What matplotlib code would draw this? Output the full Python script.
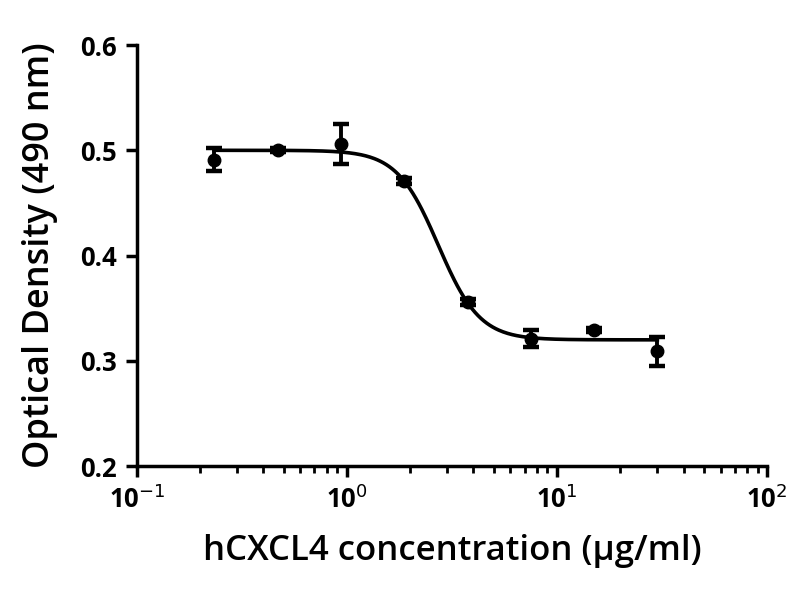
import numpy as np
import matplotlib.pyplot as plt
from matplotlib.ticker import LogLocator, FixedLocator

# concentration (ug/ml) and measured OD at 490 nm
conc = [0.234, 0.469, 0.9375, 1.875, 3.75, 7.5, 15.0, 30.0]
od = [0.491, 0.500, 0.506, 0.471, 0.356, 0.321, 0.329, 0.309]
od_err = [0.011, 0.002, 0.019, 0.003, 0.003, 0.008, 0.002, 0.014]

# 4-parameter logistic fit
top = 0.500
bottom = 0.320
ec50 = 2.72
hill = 4.4

plt.rcParams['font.family'] = ['Open Sans', 'DejaVu Sans']

fig = plt.figure(figsize=(8, 6), dpi=100)
ax = fig.add_axes([0.171, 0.223, 0.788, 0.702])

xfit = np.logspace(np.log10(conc[0]), np.log10(conc[-1]), 300)
yfit = bottom + (top - bottom) / (1 + (xfit / ec50) ** hill)
ax.plot(xfit, yfit, color='black', lw=2.6)

ax.errorbar(conc, od, yerr=od_err, fmt='o', color='black', ms=9,
            elinewidth=2.8, capsize=6, capthick=3.2)

ax.set_xscale('log')
ax.set_xlim(0.1, 100)
ax.set_ylim(0.2, 0.6)
ax.set_yticks([0.2, 0.3, 0.4, 0.5, 0.6])
ax.set_yticklabels(['0.2', '0.3', '0.4', '0.5', '0.6'])
ax.xaxis.set_major_locator(FixedLocator([0.1, 1, 10, 100]))
ax.set_xticklabels(['10$^{-1}$', '10$^{0}$', '10$^{1}$', '10$^{2}$'])
ax.xaxis.set_minor_locator(LogLocator(base=10, subs=np.arange(2, 10)))

for s in ['top', 'right']:
    ax.spines[s].set_visible(False)
for s in ['left', 'bottom']:
    ax.spines[s].set_linewidth(2.5)

ax.tick_params(axis='both', which='major', length=8, width=2.5,
               labelsize=18.5, pad=6)
ax.tick_params(axis='x', which='minor', length=5, width=2)
for lab in ax.get_xticklabels() + ax.get_yticklabels():
    lab.set_fontweight('bold')

ax.set_xlabel('hCXCL4 concentration (µg/ml)', fontsize=25,
              fontweight='semibold', labelpad=14)
ax.set_ylabel('Optical Density (490 nm)', fontsize=26,
              fontweight='semibold', labelpad=16)

fig.savefig('out.png', dpi=100)
